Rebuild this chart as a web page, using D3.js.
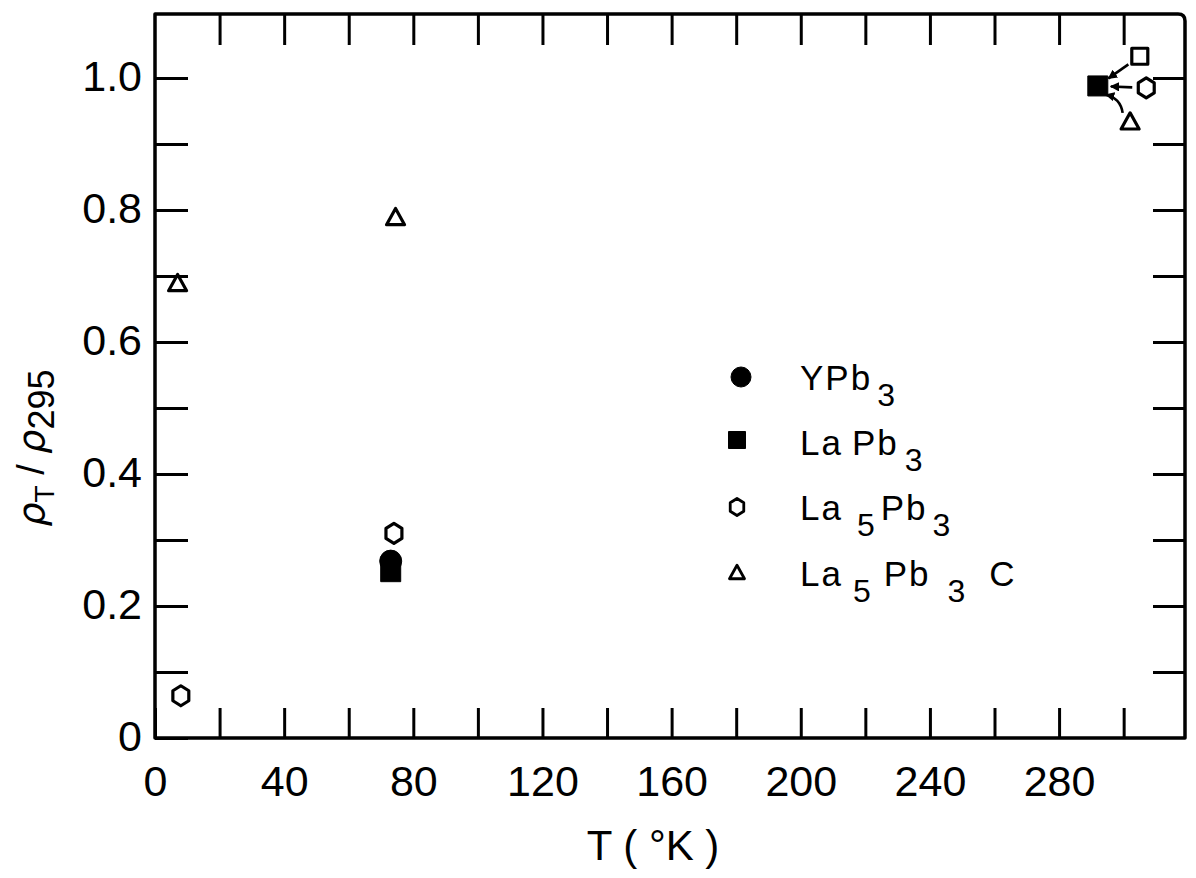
<!DOCTYPE html>
<html>
<head>
<meta charset="utf-8">
<script src="https://cdn.jsdelivr.net/npm/d3@7"></script>
<style>
  html, body { margin: 0; padding: 0; background: #fff; }
  svg { display: block; }
  text { font-family: "Liberation Sans", Arial, sans-serif; fill: #000; }
</style>
</head>
<body>
<svg id="chart" width="1196" height="878"></svg>
<script>
// ---- data ----
const xTicks = [0, 20, 40, 60, 80, 100, 120, 140, 160, 180, 200, 220, 240, 260, 280, 300];
const xTickLabels = ["0", "", "40", "", "80", "", "120", "", "160", "", "200", "", "240", "", "280", ""];
const yTicks = [0, 0.1, 0.2, 0.3, 0.4, 0.5, 0.6, 0.7, 0.8, 0.9, 1.0];
const yTickLabels = ["0", "", "0.2", "", "0.4", "", "0.6", "", "0.8", "", "1.0"];

// legend labels: pieces of text, "_" marks a subscript piece
const seriesNames = [
  ["YPb", "_3"],
  ["La", "Pb", "_3"],
  ["La", "_5", "Pb", "_3"],
  ["La", "_5", "Pb", "_3", "C"]
];
const seriesSymbols = ["circleFilled", "squareFilled", "hexagon", "triangle"];

const ypb3T = [73];
const ypb3R = [0.268];
const lapb3T = [73, 292];
const lapb3R = [0.252, 0.988];
const la5pb3T = [8, 74, 307];
const la5pb3R = [0.064, 0.31, 0.985];
const la5pb3cT = [7, 74.5, 302];
const la5pb3cR = [0.69, 0.79, 0.935];
// unlabelled open square near room temperature
const extraT = [305];
const extraR = [1.033];

// arrows pointing at the common room-temperature point (from -> to)
const arrowFromT = [305, 307, 302];
const arrowFromR = [1.033, 0.985, 0.935];
const arrowToT = [292, 292, 292];
const arrowToR = [0.988, 0.988, 0.988];

// ---- layout ----
const svg = d3.select("#chart");
const x = d3.scaleLinear().domain([0, 319]).range([155, 1185]);
const y = d3.scaleLinear().domain([0, 1.097]).range([738, 14]);
const ink = "#000";

// frame with slightly rounded upper-right corner
const fL = x(0), fR = x(319), fT = y(1.097), fB = y(0);
const rr = 7;
svg.append("path")
  .attr("d", `M${fL},${fB} L${fL},${fT} L${fR - rr},${fT} Q${fR},${fT} ${fR},${fT + rr} L${fR},${fB} Z`)
  .attr("fill", "none").attr("stroke", ink).attr("stroke-width", 3.5)
  .attr("stroke-linejoin", "round");

// axes
const fontSize = 43;
const axB = svg.append("g").attr("transform", `translate(0,${fB})`)
  .call(d3.axisBottom(x).tickValues(xTicks).tickSize(-30).tickPadding(27)
    .tickFormat((d, i) => xTickLabels[i]));
const axT = svg.append("g").attr("transform", `translate(0,${fT})`)
  .call(d3.axisTop(x).tickValues(xTicks.slice(1)).tickSize(-31).tickFormat(""));
const axL = svg.append("g").attr("transform", `translate(${fL},0)`)
  .call(d3.axisLeft(y).tickValues(yTicks).tickSize(-33).tickPadding(13)
    .tickFormat((d, i) => yTickLabels[i]));
const axR = svg.append("g").attr("transform", `translate(${fR},0)`)
  .call(d3.axisRight(y).tickValues(yTicks.slice(1)).tickSize(-32).tickFormat(""));

[axB, axT, axL, axR].forEach(g => {
  g.select(".domain").remove();
  g.selectAll(".tick line").attr("stroke", ink).attr("stroke-width", 3);
  g.selectAll(".tick text").style("font-size", fontSize + "px")
    .style("font-family", "'Liberation Sans', Arial, sans-serif").attr("fill", ink);
});
axL.selectAll(".tick text").attr("dy", "0.28em");

// axis titles
svg.append("text")
  .attr("x", 653).attr("y", 860)
  .attr("text-anchor", "middle")
  .style("font-size", "42px")
  .style("white-space", "pre")
  .text("T ( °K )");

const yl = svg.append("text")
  .attr("transform", "translate(44,448) rotate(-90)")
  .attr("text-anchor", "middle")
  .style("font-size", "38px");
yl.append("tspan").style("font-style", "italic").style("font-family", "'DejaVu Sans', sans-serif").text("ρ");
yl.append("tspan").attr("dy", 10).style("font-size", "28px").text("T");
yl.append("tspan").attr("dy", -10).text(" / ");
yl.append("tspan").style("font-style", "italic").style("font-family", "'DejaVu Sans', sans-serif").text("ρ");
yl.append("tspan").attr("dy", 10).style("font-size", "36px").text("295");

// symbols
function symbolPath(kind, s) {
  switch (kind) {
    case "hexagon": {
      const r = s / 2, p = [];
      for (let k = 0; k < 6; k++) {
        const a = Math.PI / 2 + k * Math.PI / 3;
        p.push([r * 0.92 * Math.cos(a), r * Math.sin(a)]);
      }
      return "M" + p.map(q => q.join(",")).join("L") + "Z";
    }
    case "triangle": {
      const h = s * 0.9, w = s;
      return `M0,${-h / 2}L${w / 2},${h / 2}L${-w / 2},${h / 2}Z`;
    }
    case "squareFilled":
    case "squareOpen":
      return `M${-s / 2},${-s / 2}h${s}v${s}h${-s}Z`;
    case "circleFilled":
    default:
      return d3.symbol(d3.symbolCircle, Math.PI * (s / 2) * (s / 2))();
  }
}
function drawSymbol(g, kind, cx, cy, s, sw) {
  const filled = kind === "circleFilled" || kind === "squareFilled";
  g.append("path")
    .attr("d", symbolPath(kind, s))
    .attr("transform", `translate(${cx},${cy})`)
    .attr("fill", filled ? ink : "none")
    .attr("stroke", ink)
    .attr("stroke-width", filled ? 1 : (sw || 3.2))
    .attr("stroke-linejoin", "round");
}

const pts = svg.append("g");
const seriesData = [
  { T: ypb3T, R: ypb3R, sym: "circleFilled", size: 22 },
  { T: lapb3T, R: lapb3R, sym: "squareFilled", size: 20 },
  { T: la5pb3T, R: la5pb3R, sym: "hexagon", size: 20 },
  { T: la5pb3cT, R: la5pb3cR, sym: "triangle", size: 18 },
  { T: extraT, R: extraR, sym: "squareOpen", size: 16 }
];
[1, 0, 2, 3, 4].forEach(si => {
  const sd = seriesData[si];
  sd.T.forEach((t, i) => drawSymbol(pts, sd.sym, x(t), y(sd.R[i]), sd.size));
});

// arrows
const defs = svg.append("defs");
defs.append("marker").attr("id", "ah")
  .attr("viewBox", "0 0 10 10").attr("refX", 9).attr("refY", 5)
  .attr("markerWidth", 3.6).attr("markerHeight", 3.6)
  .attr("orient", "auto").attr("markerUnits", "strokeWidth")
  .append("path").attr("d", "M0,0L10,5L0,10Z").attr("fill", ink);

const arrowBend = [0, 0, -0.35];
const arrowStartGap = [14, 14, 11];
const arrowEndGap = [13, 13, 12];
arrowFromT.forEach((ft, i) => {
  const x0 = x(ft), y0 = y(arrowFromR[i]);
  const x1 = x(arrowToT[i]), y1 = y(arrowToR[i]);
  const dx = x1 - x0, dy = y1 - y0, len = Math.hypot(dx, dy);
  const ux = dx / len, uy = dy / len;
  const sx = x0 + ux * arrowStartGap[i], sy = y0 + uy * arrowStartGap[i];
  const ex = x1 - ux * arrowEndGap[i], ey = y1 - uy * arrowEndGap[i];
  const b = arrowBend[i];
  const mx = (sx + ex) / 2 + uy * b * len * 0.5, my = (sy + ey) / 2 - ux * b * len * 0.5;
  svg.append("path")
    .attr("d", b ? `M${sx},${sy}Q${mx},${my} ${ex},${ey}` : `M${sx},${sy}L${ex},${ey}`)
    .attr("fill", "none").attr("stroke", ink).attr("stroke-width", 2.6)
    .attr("marker-end", "url(#ah)");
});

// legend
const legTextX = 800;
const legBase = [390, 455, 520, 586];
const legSym = [[741, 377, 20], [737, 440, 17], [737, 507, 17], [737, 572, 15]];
const legGaps = [[0, 5], [0, 9, 6], [0, 14, 4, 5], [0, 10, 11, 17, 22]];
seriesNames.forEach((parts, i) => {
  drawSymbol(svg, seriesSymbols[i], legSym[i][0], legSym[i][1], legSym[i][2], 2.8);
  const t = svg.append("text").attr("x", legTextX).attr("y", legBase[i])
    .style("font-size", "35px").style("letter-spacing", "2px");
  let down = false;
  parts.forEach((p, j) => {
    const isSub = p.startsWith("_");
    const dy = isSub ? (down ? 0 : 16) : (down ? -16 : 0);
    t.append("tspan").attr("dx", legGaps[i][j]).attr("dy", dy)
      .style("font-size", isSub ? "32px" : "35px")
      .text(isSub ? p.slice(1) : p);
    down = isSub;
  });
});
</script>
</body>
</html>
